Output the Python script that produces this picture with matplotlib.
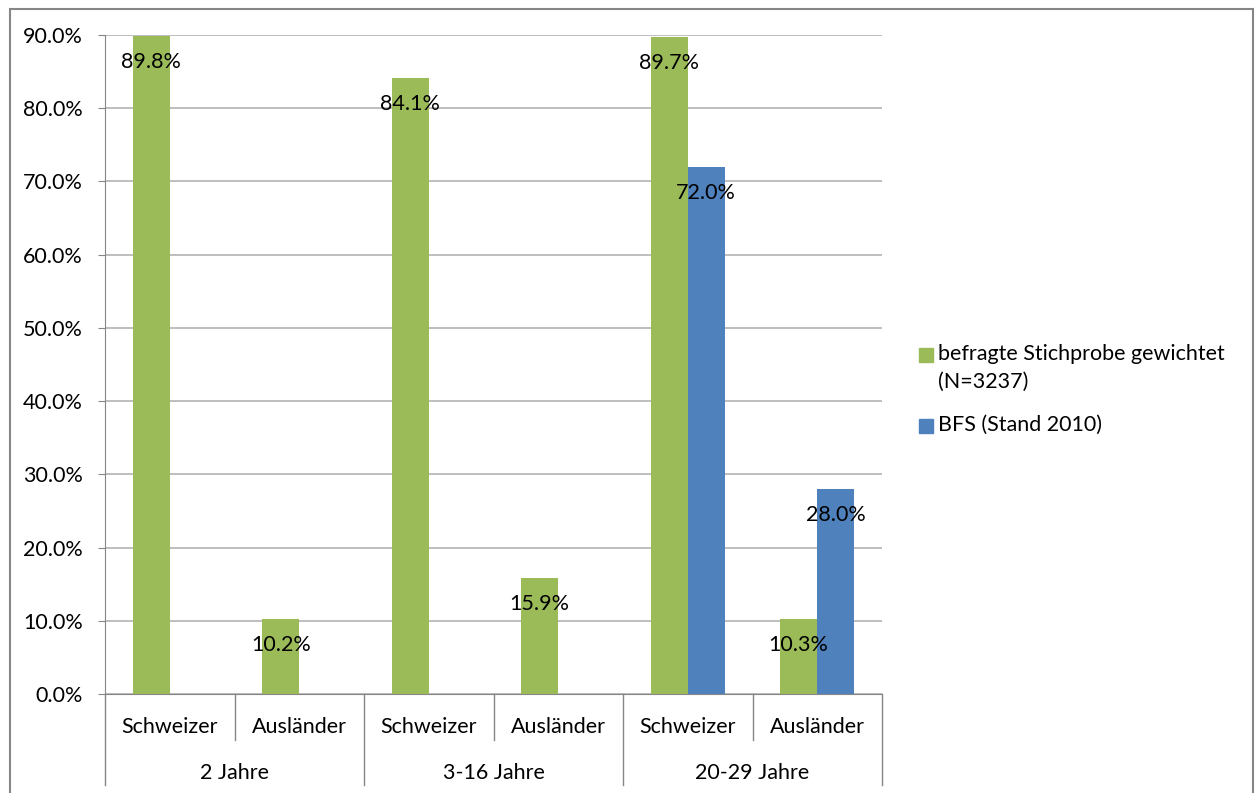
import numpy as np
import matplotlib
matplotlib.use("Agg")
import matplotlib.pyplot as plt
from matplotlib.patches import Rectangle
from matplotlib.ticker import FuncFormatter

plt.rcParams['font.family'] = ['Lato', 'DejaVu Sans']

groups = ['2 Jahre', '3-16 Jahre', '20-29 Jahre']
subcats = ['Schweizer', 'Ausländer', 'Schweizer', 'Ausländer', 'Schweizer', 'Ausländer']
stichprobe = [89.8, 10.2, 84.1, 15.9, 89.7, 10.3]
bfs = [np.nan, np.nan, np.nan, np.nan, 72.0, 28.0]
series_names = ['befragte Stichprobe gewichtet\n(N=3237)', 'BFS (Stand 2010)']

green = '#9BBB59'
blue = '#4F81BD'
gray = '#868686'
fs = 15.5

fig = plt.figure(figsize=(12.55, 7.93), dpi=100)
ax = fig.add_axes([105 / 1255, 99 / 793, 777 / 1255, 659 / 793])

x = np.arange(len(subcats))
w = 0.286
b1 = ax.bar(x - w / 2, stichprobe, w, color=green, zorder=3)
b2 = ax.bar(x + w / 2, bfs, w, color=blue, zorder=3)

for bars, vals in [(b1, stichprobe), (b2, bfs)]:
    for rect, v in zip(bars, vals):
        if np.isnan(v):
            continue
        ax.annotate(f'{v:.1f}%', (rect.get_x() + rect.get_width() / 2, v),
                    xytext=(0, -26), textcoords='offset pixels',
                    ha='center', va='center', fontsize=fs, color='black', zorder=4)

ax.set_xlim(-0.5, len(subcats) - 0.5)
ax.set_ylim(0, 90)
ax.set_yticks(np.arange(0, 91, 10))
ax.yaxis.set_major_formatter(FuncFormatter(lambda v, p: f'{v:.1f}%'))
ax.tick_params(axis='y', length=5, color=gray, labelsize=fs, pad=11)
ax.set_xticks([])
ax.yaxis.grid(True, color='#B3B3B3', linewidth=1.2, zorder=0)
for s in ['top', 'right']:
    ax.spines[s].set_visible(False)
ax.spines['left'].set_color(gray)
ax.spines['bottom'].set_color(gray)

# multi-level category axis
trans = ax.get_xaxis_transform()
for i, name in enumerate(subcats):
    ax.text(i, -0.05, name, transform=trans, ha='center', va='center', fontsize=fs)
for j, g in enumerate(groups):
    ax.text(2 * j + 0.5, -0.12, g, transform=trans, ha='center', va='center', fontsize=fs)
for k in range(len(subcats) + 1):
    edge = k - 0.5
    low = -0.138 if k % 2 == 0 else -0.0698
    ax.plot([edge, edge], [0, low], transform=trans, color=gray, lw=1, clip_on=False)

# legend (handle sits next to first line of a two-line label, like Excel)
legend_y = [355, 426]
for (name, col), yy in zip([(series_names[0], green), (series_names[1], blue)], legend_y):
    fig.patches.append(Rectangle((919 / 1255, 1 - (yy + 7) / 793), 14 / 1255, 14 / 793,
                                 transform=fig.transFigure, color=col))
    fig.text(938 / 1255, 1 - (yy - 11) / 793, name, fontsize=fs, va='top', ha='left',
             linespacing=1.5)

fig.patches.append(Rectangle((10 / 1255, -0.1), 1243 / 1255, 0.1 + 784 / 793,
                             transform=fig.transFigure, fill=False, edgecolor=gray, lw=1.5))

fig.savefig('out.png', dpi=100)
